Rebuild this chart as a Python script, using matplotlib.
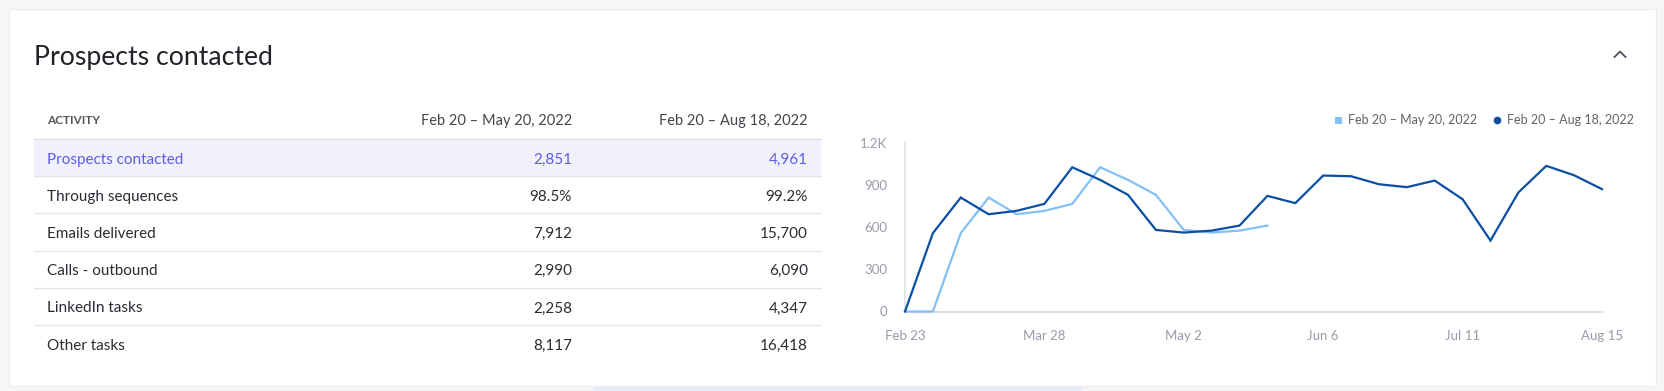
import matplotlib
matplotlib.use("Agg")
import matplotlib.pyplot as plt
from matplotlib.patches import Rectangle
from matplotlib.lines import Line2D

plt.rcParams['font.family'] = ['Lato', 'DejaVu Sans']

W, H = 1664, 391

# table data
TITLE = "Prospects contacted"
PERIOD_1 = "Feb 20 – May 20, 2022"
PERIOD_2 = "Feb 20 – Aug 18, 2022"
activities = ["Prospects contacted", "Through sequences", "Emails delivered",
              "Calls - outbound", "LinkedIn tasks", "Other tasks"]
period1_values = ["2,851", "98.5%", "7,912", "2,990", "2,258", "8,117"]
period2_values = ["4,961", "99.2%", "15,700", "6,090", "4,347", "16,418"]

# weekly chart data
period2_weekly = [0, 559, 813, 694, 718, 768, 1029, 939, 832, 582, 563, 577, 613,
                  825, 773, 970, 965, 908, 887, 934, 801, 506, 849, 1039, 972, 873]
period1_weekly = [0, 0, 559, 813, 694, 718, 768, 1029, 939, 832, 582, 563, 577, 613]
xtick_labels = ["Feb 23", "Mar 28", "May 2", "Jun 6", "Jul 11", "Aug 15"]
ytick_values = [0, 300, 600, 900, 1200]
ytick_labels = ["0", "300", "600", "900", "1.2K"]

DARK = "#0b4fa5"
LIGHT = "#82c0f8"
PURPLE = "#5d5cec"
TEXT = "#2b2b33"
GREY = "#9a9aaa"

fig = plt.figure(figsize=(W / 100, H / 100), dpi=100)
fig.patch.set_facecolor("#f6f6f7")

# background axes in pixel coordinates
bg = fig.add_axes([0, 0, 1, 1])
bg.set_xlim(0, W)
bg.set_ylim(H, 0)
bg.axis("off")

# page strip under the card and the card itself
bg.add_patch(Rectangle((593, 383), 489, 10, facecolor="#e3edfc", edgecolor="none"))
bg.add_patch(Rectangle((8.5, 10), 1647, 377, facecolor="#c9c9cc", edgecolor="none"))
bg.add_patch(Rectangle((8.5, 8.5), 1647, 377, facecolor="white", edgecolor="#ececee", lw=0.8))

bg.text(34, 57, TITLE, fontsize=19.2, fontweight="normal", color="#22222a",
        va="center", ha="left")
bg.add_line(Line2D([1614.5, 1620, 1625.5], [57, 51.5, 57], color="#4b4b5c", lw=1.3))

# table header
bg.text(47, 121, "ACTIVITY", fontsize=8.5, fontweight="bold", color="#55555f",
        va="center", ha="left")
bg.text(572, 121, PERIOD_1, fontsize=10.5, color="#44444e", va="center", ha="right")
bg.text(808, 121, PERIOD_2, fontsize=10.5, color="#44444e", va="center", ha="right")

row_top = 139
row_h = 37.2
for i, (name, v1, v2) in enumerate(zip(activities, period1_values, period2_values)):
    y0 = row_top + i * row_h
    yc = y0 + row_h / 2 + 2
    color = TEXT
    if i == 0:
        bg.add_patch(Rectangle((34, y0), 787, row_h, facecolor="#f1f0fd", edgecolor="none"))
        color = PURPLE
    bg.add_line(Line2D([34, 821], [y0, y0], color="#dedee3" if i == 0 else "#e6e6ea", lw=1))
    bg.text(47, yc, name, fontsize=11, color=color, va="center", ha="left")
    bg.text(572, yc, v1, fontsize=11, color=color, va="center", ha="right")
    bg.text(808, yc, v2, fontsize=11, color=color, va="center", ha="right")

# chart
x0_px, x1_px = 905, 1602
y0_px, y1_px = 311.5, 143.3
n = len(period2_weekly) - 1
ax = fig.add_axes([x0_px / W, 1 - y0_px / H, (x1_px - x0_px) / W, (y0_px - y1_px) / H])
ax.set_xlim(0, n)
ax.set_ylim(0, 1200)
ax.patch.set_alpha(0)
for s in ["top", "right"]:
    ax.spines[s].set_visible(False)
ax.spines["left"].set_color("#e2e2ea")
ax.spines["left"].set_linewidth(1.2)
ax.spines["left"].set_bounds(0, 1212)
ax.spines["bottom"].set_color("#dcdce5")
ax.spines["bottom"].set_linewidth(1.6)
ax.spines["bottom"].set_zorder(0)

ax.plot(range(len(period1_weekly)), period1_weekly, color=LIGHT, lw=1.6,
        solid_joinstyle="miter", clip_on=False, zorder=2)
ax.plot(range(len(period2_weekly)), period2_weekly, color=DARK, lw=1.6,
        solid_joinstyle="miter", clip_on=False, zorder=3)

ax.set_xticks(range(0, n + 1, 5))
ax.set_xticklabels(xtick_labels)
ax.set_yticks(ytick_values)
ax.set_yticklabels(ytick_labels)
ax.tick_params(length=0, labelsize=9.5, labelcolor=GREY)
ax.tick_params(axis="x", pad=13)
ax.tick_params(axis="y", pad=13)

# legend
bg.add_patch(Rectangle((1335, 116.5), 7, 7, facecolor=LIGHT, edgecolor="none"))
bg.text(1348, 120.5, PERIOD_1, fontsize=9, color="#62626c", va="center", ha="left")
bg.plot([1497], [120], marker="o", markersize=5.5, color=DARK, mec="none")
bg.text(1507, 120.5, PERIOD_2, fontsize=9, color="#62626c", va="center", ha="left")

fig.savefig("out.png", dpi=100, facecolor=fig.get_facecolor())
